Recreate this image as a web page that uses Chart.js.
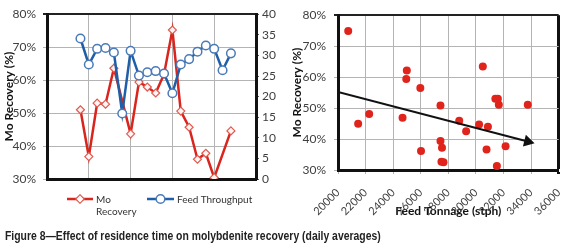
<!DOCTYPE html>
<html>
<head>
<meta charset="utf-8">
<title>Figure 8</title>
<script src="https://cdn.jsdelivr.net/npm/chart.js@4.4.1/dist/chart.umd.min.js"></script>
<style>
  body { margin: 0; background: #fff; width: 580px; height: 246px; overflow: hidden; position: relative; font-family: Lato, sans-serif; }
  .box { position: absolute; top: 0; height: 222px; }
  #leftBox { left: 0; width: 288px; }
  #rightBox { left: 288px; width: 292px; }
  .leg { position: absolute; font-size: 10px; line-height: 12px; color: #333; white-space: nowrap; }
  .leg svg { position: absolute; }
  #caption { position: absolute; left: 5px; top: 228px; font: bold 13px "Liberation Sans", Arial, sans-serif; color: #222; white-space: nowrap;
    transform: scaleX(0.8); transform-origin: left center; }
</style>
</head>
<body>
<div class="box" id="leftBox"><canvas id="daily"></canvas></div>
<div class="box" id="rightBox"><canvas id="tonnage"></canvas></div>

<svg class="leg" style="left:67px;top:194px" width="26" height="10">
  <line x1="0" y1="5" x2="26" y2="5" stroke="#d9251d" stroke-width="2.5"/>
  <rect x="10" y="2" width="6" height="6" fill="#fff" stroke="#e05a50" stroke-width="1.2" transform="rotate(45 13 5)"/>
</svg>
<div class="leg" style="left:96px;top:193px">Mo<br>Recovery</div>
<svg class="leg" style="left:147px;top:193px" width="27" height="12">
  <line x1="0" y1="6" x2="27" y2="6" stroke="#1f5ea8" stroke-width="2.5"/>
  <circle cx="13.5" cy="6" r="4.3" fill="#fff" stroke="#4a7ab8" stroke-width="1.5"/>
</svg>
<div class="leg" style="left:177px;top:193px">Feed Throughput</div>

<div id="caption">Figure 8&#8212;Effect of residence time on molybdenite recovery (daily averages)</div>

<script>
"use strict"

// left chart: daily averages
const days = [4, 5, 6, 7, 8, 9, 10, 11, 12, 13, 14, 15, 16, 17, 18, 19, 20, 21, 22];
const moRecovery = [51.0, 36.8, 53.0, 52.7, 63.6, null, 43.7, 59.4, 57.9, 56.1, 61.8, 75.2, 50.6, 45.7, 36.0, 37.8, 30.4, null, 44.6];
const feedThroughput = [34.1, 27.8, 31.6, 31.8, 30.7, 15.9, 31.1, 25.1, 25.9, 26.2, 25.6, 20.8, 27.8, 29.1, 30.9, 32.4, 31.6, 26.4, 30.5];

// right chart: recovery vs feed tonnage
const feedTonnage = [20740, 21460, 22260, 24680, 24950, 24990, 25970, 26020, 27430, 27430, 27500, 27540, 27650,
  28790, 29290, 30230, 30500, 30770, 30870, 31410, 31520, 31590, 31660, 32150, 33760];
const tonnageRecovery = [74.9, 44.9, 48.1, 46.9, 59.4, 62.1, 56.5, 36.1, 50.8, 39.4, 32.7, 37.2, 32.5,
  45.9, 42.5, 44.7, 63.4, 36.6, 44.0, 53.0, 31.3, 53.0, 51.1, 37.7, 51.1];
const trendTonnage = [20000, 33760];
const trendRecovery = [55.2, 39.2];

const tickFont = { family: 'Lato', size: 12 };
const titleFont = { family: 'Lato', size: 12, weight: 'bold' };
const gridGrey = '#b4b4b4';
const frame = '#111';

new Chart(document.getElementById('daily'), {
  type: 'line',
  data: {
    datasets: [{
      label: 'Mo Recovery',
      data: days.map((d, i) => ({ x: d, y: moRecovery[i] })),
      yAxisID: 'y',
      borderColor: '#d9251d',
      borderWidth: 2.5,
      pointStyle: 'rectRot',
      pointRadius: 4,
      pointBackgroundColor: '#fff5f3',
      pointBorderColor: '#e05a50',
      pointBorderWidth: 1.2,
      spanGaps: true,
      order: 1
    }, {
      label: 'Feed Throughput',
      data: days.map((d, i) => ({ x: d, y: feedThroughput[i] })),
      yAxisID: 'y1',
      borderColor: '#1f5ea8',
      borderWidth: 2.5,
      pointStyle: 'circle',
      pointRadius: 4.3,
      pointBackgroundColor: '#fff',
      pointBorderColor: '#4a7ab8',
      pointBorderWidth: 1.5,
      order: 0
    }]
  },
  options: {
    responsive: true,
    maintainAspectRatio: false,
    animation: false,
    layout: { padding: { top: 7, bottom: 43, left: 0, right: 0 } },
    plugins: { legend: { display: false }, tooltip: { enabled: false } },
    scales: {
      x: {
        type: 'linear', min: 0, max: 25,
        ticks: { display: false, stepSize: 5 },
        grid: { color: gridGrey, drawTicks: false },
        border: { color: frame, width: 3 },
        afterFit: s => { s.height = 0; }
      },
      y: {
        position: 'left', min: 30, max: 80,
        ticks: { stepSize: 5, padding: 7, color: '#404040', font: tickFont, callback: v => v + '%' },
        grid: {
          color: c => (c.tick && c.tick.value === 80) ? '#222' : gridGrey,
          lineWidth: c => (c.tick && c.tick.value === 80) ? 2 : 1,
          tickLength: 4
        },
        border: { color: frame, width: 3 },
        title: { display: true, text: 'Mo Recovery (%)', color: '#111', font: titleFont, padding: { top: 2, bottom: 0 } },
        afterFit: s => { s.width = 47; }
      },
      y1: {
        position: 'right', min: 0, max: 40,
        ticks: { stepSize: 5, padding: 3, color: '#404040', font: tickFont },
        grid: { drawOnChartArea: false, tickLength: 3, color: '#555' },
        border: { color: frame, width: 3 },
        afterFit: s => { s.width = 32; }
      }
    }
  }
});

new Chart(document.getElementById('tonnage'), {
  type: 'scatter',
  data: {
    datasets: [{
      label: 'Mo Recovery',
      data: feedTonnage.map((t, i) => ({ x: t, y: tonnageRecovery[i] })),
      backgroundColor: '#e0241c',
      borderWidth: 0,
      pointRadius: 4
    }, {
      label: 'Trend',
      type: 'line',
      data: trendTonnage.map((t, i) => ({ x: t, y: trendRecovery[i] })),
      borderColor: '#111',
      borderWidth: 2,
      backgroundColor: '#111',
      pointStyle: ['circle', 'triangle'],
      pointRadius: [0, 5],
      rotation: [0, 104],
      order: -1
    }]
  },
  options: {
    responsive: true,
    maintainAspectRatio: false,
    animation: false,
    layout: { padding: { top: 7, bottom: 0, left: 0, right: 3 } },
    plugins: { legend: { display: false }, tooltip: { enabled: false } },
    scales: {
      x: {
        type: 'linear', min: 20000, max: 36000,
        ticks: { stepSize: 2000, minRotation: 45, maxRotation: 45, padding: 12, color: '#404040',
          font: { family: 'Lato', size: 11 }, callback: v => String(v) },
        grid: {
          color: c => (c.tick && c.tick.value === 36000) ? frame : gridGrey,
          lineWidth: c => (c.tick && c.tick.value === 36000) ? 3 : 1,
          tickLength: 4
        },
        border: { color: frame, width: 3 },
        title: { display: true, text: 'Feed Tonnage (stph)', color: '#111', font: titleFont, padding: { top: 0, bottom: 4 } },
        afterFit: s => { s.height = 52; }
      },
      y: {
        min: 30, max: 80,
        ticks: { stepSize: 10, padding: 8, color: '#404040', font: tickFont, callback: v => v + '%' },
        grid: {
          color: c => (c.tick && c.tick.value === 80) ? '#222' : gridGrey,
          lineWidth: c => (c.tick && c.tick.value === 80) ? 2 : 1,
          tickLength: 4
        },
        border: { color: frame, width: 3 },
        title: { display: true, text: 'Mo Recovery (%)', color: '#111', font: titleFont, padding: { top: 2, bottom: 0 } },
        afterFit: s => { s.width = 50; }
      }
    }
  }
});
</script>
</body>
</html>
